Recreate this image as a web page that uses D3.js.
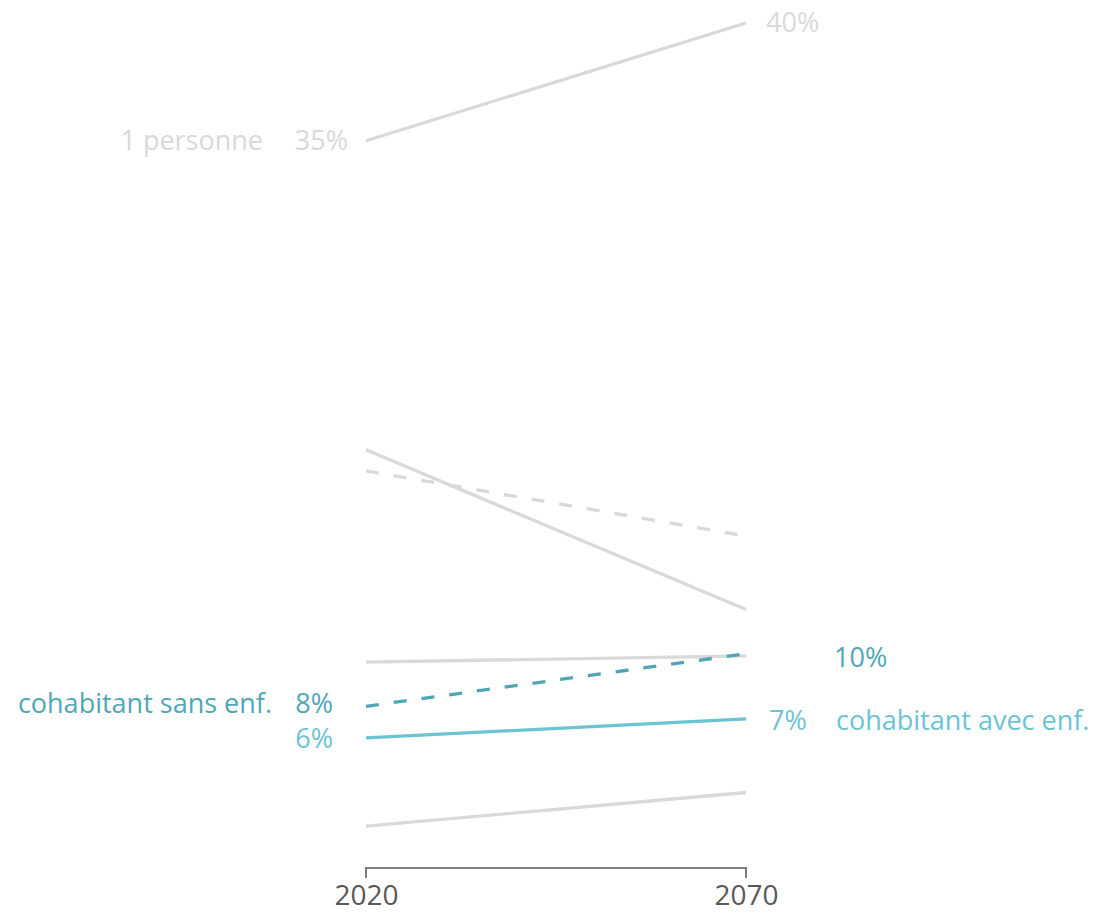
<!DOCTYPE html>
<html><head><meta charset="utf-8">
<script src="https://cdn.jsdelivr.net/npm/d3@7"></script>
<style>body{margin:0;background:#fff}svg{display:block}text{font-family:"Open Sans",Lato,sans-serif}</style>
</head><body>
<script>
const years = [2020, 2070];
const seriesNames = ["1 personne","s2","s3","s4","cohabitant sans enf.","cohabitant avec enf.","s7"];
const values2020 = [34.4, 19.7, 18.7, 9.6, 7.5, 6.0, 1.8];
const values2070 = [40.0, 12.1, 15.6, 9.9, 10.0, 6.9, 3.4];
const colors = ["#d9d9d9","#d9d9d9","#d9d9d9","#d9d9d9","#4fa7b6","#6cc3d3","#d9d9d9"];
const dashed = [false,false,true,false,true,false,false];
const leftLabels = ["35%","","","","8%","6%",""];
const rightLabels = ["40%","","","","10%","7%",""];
const leftNames = ["1 personne","","","","cohabitant sans enf.","",""];
const rightNames = ["","","","","","cohabitant avec enf.",""];
const labelColors = ["#d9d9d9","","","","#4fa7b6","#6cc3d3",""];

const W=1101,H=916;
const svg=d3.select("body").append("svg").attr("width",W).attr("height",H);
const x=d3.scaleLinear().domain([2020,2070]).range([366,746]);
const y=d3.scaleLinear().domain([0,40]).range([864,23]);

const line=d3.line().x(d=>x(d[0])).y(d=>y(d[1]));
seriesNames.forEach((n,i)=>{
  svg.append("path").datum([[years[0],values2020[i]],[years[1],values2070[i]]])
    .attr("d",line).attr("fill","none").attr("stroke",colors[i]).attr("stroke-width",3.3)
    .attr("stroke-dasharray",dashed[i]?"13,15":null);
});

// axis
const ax=d3.axisBottom(x).tickValues(years).tickFormat(d3.format("d")).tickSize(10).tickSizeOuter(0);
const g=svg.append("g").attr("transform","translate(0,868)").call(ax);
g.select(".domain").attr("stroke","#7f7f7f").attr("stroke-width",2).attr("d","M366,10V0H746V10");
g.selectAll(".tick line").remove();
g.selectAll(".tick text").attr("fill","#595959").attr("font-size",28).attr("y",0).attr("dy","1.33em").attr("font-family","'Open Sans',Lato,sans-serif");

const fs=27;
const leftPctX=[348,0,0,0,333,333,0];
const leftPctDy=[0,0,0,0,-3,1,0];
seriesNames.forEach((n,i)=>{
  if(leftLabels[i]) svg.append("text").attr("x",leftPctX[i]).attr("y",y(values2020[i])+leftPctDy[i]).attr("dy","0.35em")
    .attr("text-anchor","end").attr("font-size",fs).attr("fill",labelColors[i]).text(leftLabels[i]);
});
const leftNameX=[263,0,0,0,272,0,0];
seriesNames.forEach((n,i)=>{
  if(leftNames[i]) svg.append("text").attr("x",leftNameX[i]).attr("y",y(values2020[i])+leftPctDy[i]).attr("dy","0.35em")
    .attr("text-anchor","end").attr("font-size",fs).attr("fill",labelColors[i]).text(leftNames[i]);
});
const rightPctX=[766,0,0,0,834,769,0];
const rightPctDy=[0,0,0,0,4,2,0];
seriesNames.forEach((n,i)=>{
  if(rightLabels[i]) svg.append("text").attr("x",rightPctX[i]).attr("y",y(values2070[i])+rightPctDy[i]).attr("dy","0.35em")
    .attr("text-anchor","start").attr("font-size",fs).attr("fill",labelColors[i]).text(rightLabels[i]);
});
seriesNames.forEach((n,i)=>{
  if(rightNames[i]) svg.append("text").attr("x",836).attr("y",y(values2070[i])+rightPctDy[i]).attr("dy","0.35em")
    .attr("text-anchor","start").attr("font-size",fs).attr("fill",labelColors[i]).text(rightNames[i]);
});
</script>
</body></html>
